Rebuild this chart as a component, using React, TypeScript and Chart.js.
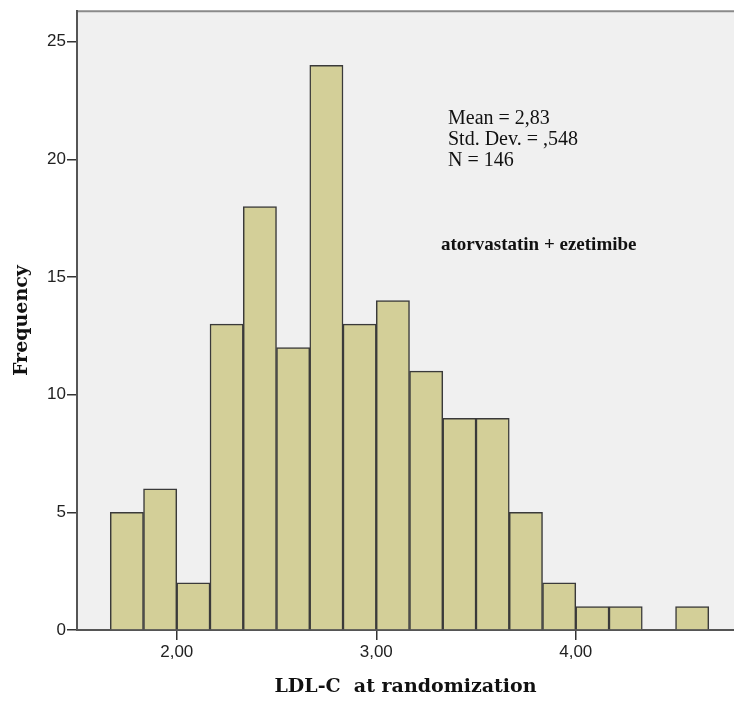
import React, { useEffect, useRef } from "react";
import { Chart, registerables } from "chart.js";

Chart.register(...registerables);

// Histogram bins (bin width 1/6), centers and frequencies
const binCenters = [1.75, 1.9167, 2.0833, 2.25, 2.4167, 2.5833, 2.75, 2.9167, 3.0833, 3.25, 3.4167, 3.5833, 3.75, 3.9167, 4.0833, 4.25, 4.4167, 4.5833];
const frequencies = [5, 6, 2, 13, 18, 12, 24, 13, 14, 11, 9, 9, 5, 2, 1, 1, 0, 1];
const xTickValues = [2, 3, 4];
const yTickValues = [0, 5, 10, 15, 20, 25];
const statsLines = ["Mean = 2,83", "Std. Dev. = ,548", "N = 146"];
const groupLabel = "atorvastatin + ezetimibe";
const xTitle = "LDL-C  at randomization";
const yTitle = "Frequency";

const bgPlugin = {
  id: "bgPlugin",
  beforeDraw(chart: any) {
    const { ctx, chartArea } = chart;
    ctx.save();
    ctx.fillStyle = "#f0f0f0";
    ctx.fillRect(chartArea.left, chartArea.top, chartArea.right - chartArea.left, chartArea.bottom - chartArea.top);
    ctx.strokeStyle = "#8a8a8a";
    ctx.lineWidth = 2;
    ctx.beginPath();
    ctx.moveTo(chartArea.left, chartArea.top);
    ctx.lineTo(chartArea.right, chartArea.top);
    ctx.stroke();
    ctx.restore();
  },
  afterDraw(chart: any) {
    const { ctx } = chart;
    ctx.save();
    ctx.fillStyle = "#111";
    ctx.textBaseline = "alphabetic";
    ctx.textAlign = "left";
    ctx.font = "20px 'Liberation Serif', serif";
    statsLines.forEach((t, i) => ctx.fillText(t, 448, 124 + i * 21));
    ctx.font = "bold 19px 'Liberation Serif', serif";
    ctx.fillText(groupLabel, 441, 250);
    ctx.restore();
  },
};

export default function App() {
  const ref = useRef<HTMLCanvasElement>(null);
  useEffect(() => {
    const pts = binCenters
      .map((x, i) => ({ x, y: frequencies[i] }))
      .filter((p) => p.y > 0);
    const chart = new Chart(ref.current!, {
      type: "bar",
      data: {
        datasets: [
          {
            data: pts as any,
            backgroundColor: "#d3cf98",
            borderColor: "#3a3a3a",
            borderWidth: 1.5,
            barPercentage: 1,
            categoryPercentage: 1,
          },
        ],
      },
      plugins: [bgPlugin],
      options: {
        animation: false,
        responsive: false,
        devicePixelRatio: 1,
        layout: { padding: { left: 0, top: 10, right: 0, bottom: 0 } },
        plugins: { legend: { display: false }, tooltip: { enabled: false } },
        scales: {
          x: {
            type: "linear",
            offset: false,
            min: 1.5,
            max: 4.793,
            afterBuildTicks: (s: any) => {
              s.ticks = xTickValues.map((v) => ({ value: v }));
            },
            afterFit: (s: any) => {
              s.height = 72;
            },
            ticks: {
              padding: 2,
              color: "#222",
              font: { family: "'Liberation Sans', Arial, sans-serif", size: 17 },
              callback: (v: any) => Number(v).toFixed(2).replace(".", ","),
              maxRotation: 0,
            },
            grid: { offset: false, drawOnChartArea: false, drawTicks: true, tickLength: 10, color: "#333", lineWidth: 1.5 },
            border: { display: true, color: "#555", width: 2 },
            title: {
              display: true,
              text: xTitle,
              color: "#111",
              font: { family: "'DejaVu Serif', serif", size: 19, weight: "bold" },
              padding: { top: 4, bottom: 4 },
            },
          },
          y: {
            type: "linear",
            min: 0,
            max: 26.3,
            afterBuildTicks: (s: any) => {
              s.ticks = yTickValues.map((v) => ({ value: v }));
            },
            afterFit: (s: any) => {
              s.width = 77;
            },
            ticks: {
              padding: 1,
              color: "#222",
              font: { family: "'Liberation Sans', Arial, sans-serif", size: 17 },
            },
            grid: { drawOnChartArea: false, drawTicks: true, tickLength: 10, color: "#333", lineWidth: 1.5 },
            border: { display: true, color: "#555", width: 2 },
            title: {
              display: true,
              text: yTitle,
              color: "#111",
              font: { family: "'DejaVu Serif', serif", size: 19, weight: "bold" },
              padding: { top: 11, bottom: 11 },
            },
          },
        },
      },
    });
    return () => chart.destroy();
  }, []);
  return (
    <div style={{ position: "fixed", left: 0, top: 0, width: 734, height: 702, background: "#fff" }}>
      <canvas ref={ref} width={734} height={702} style={{ display: "block" }} />
    </div>
  );
}
